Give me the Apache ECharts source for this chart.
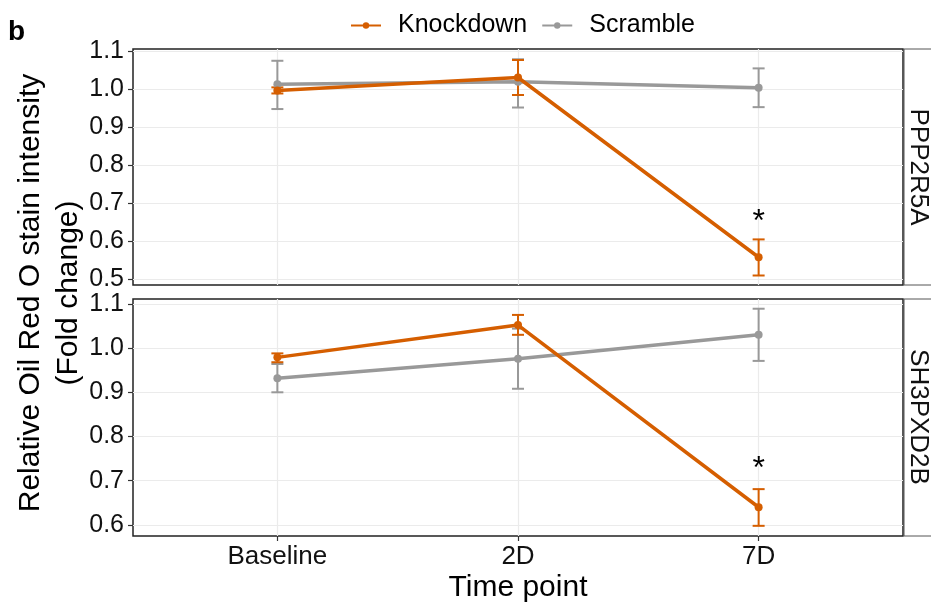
<!DOCTYPE html>
<html>
<head>
<meta charset="utf-8">
<script src="https://cdn.jsdelivr.net/npm/echarts@6/dist/echarts.min.js"></script>
<style>
  html, body { margin: 0; padding: 0; background: #fff; }
  #chart { width: 931px; height: 614px; }
</style>
</head>
<body>
<div id="chart"></div>
<script>
var categories = ['Baseline', '2D', '7D']
var panels = ['PPP2R5A', 'SH3PXD2B']
var yTicksTop = [0.5, 0.6, 0.7, 0.8, 0.9, 1.0, 1.1]
var yTicksBottom = [0.6, 0.7, 0.8, 0.9, 1.0, 1.1]

// PPP2R5A
var pppKnock = [0.996, 1.030, 0.557]
var pppKnockLow = [0.988, 0.984, 0.509]
var pppKnockHigh = [1.004, 1.076, 0.604]
var pppScram = [1.012, 1.019, 1.003]
var pppScramLow = [0.947, 0.951, 0.952]
var pppScramHigh = [1.074, 1.078, 1.054]

// SH3PXD2B
var shKnock = [0.979, 1.052, 0.640]
var shKnockLow = [0.968, 1.030, 0.598]
var shKnockHigh = [0.988, 1.075, 0.681]
var shScram = [0.932, 0.976, 1.030]
var shScramLow = [0.900, 0.908, 0.971]
var shScramHigh = [0.964, 1.044, 1.089]

// significance marks (category index, y)
var pppStar = [[3, 0.668]]
var shStar = [[3, 0.743]]

var ORANGE = '#d55e00'
var GREY = '#999999'
var FONT = 'Liberation Sans, Arial, sans-serif'

function pts(vals) {
  return vals.map(function (v, i) { return [i + 1, v] })
}
function bars(lo, hi) {
  return lo.map(function (v, i) { return [i + 1, v, hi[i]] })
}

function renderErr(params, api) {
  var x = api.value(0)
  var a = api.coord([x, api.value(1)])
  var b = api.coord([x, api.value(2)])
  var w = 6
  var st = { stroke: api.visual('color'), lineWidth: 2 }
  return {
    type: 'group',
    children: [
      { type: 'line', shape: { x1: a[0], y1: a[1], x2: b[0], y2: b[1] }, style: st },
      { type: 'line', shape: { x1: a[0] - w, y1: a[1], x2: a[0] + w, y2: a[1] }, style: st },
      { type: 'line', shape: { x1: b[0] - w, y1: b[1], x2: b[0] + w, y2: b[1] }, style: st }
    ]
  }
}

function renderStar(params, api) {
  var p = api.coord([api.value(0), api.value(1)])
  return {
    type: 'text',
    x: p[0], y: p[1] + 7,
    style: { text: '*', fontSize: 32, fontFamily: FONT, fill: '#000', align: 'center', verticalAlign: 'middle' }
  }
}

function xAxisOf(idx, showLabels) {
  return {
    type: 'value', gridIndex: idx, min: 0.4, max: 3.6,
    axisLine: { show: false },
    axisTick: { show: showLabels, customValues: [1, 2, 3], length: 5, lineStyle: { color: '#333', width: 1.2 } },
    axisLabel: {
      show: showLabels, customValues: [1, 2, 3], margin: 8,
      fontSize: 26, color: '#111', fontFamily: FONT,
      formatter: function (v) { return categories[Math.round(v) - 1] }
    },
    splitLine: { show: true, lineStyle: { color: '#ebebeb', width: 1.2 } },
    name: showLabels ? 'Time point' : '',
    nameLocation: 'middle', nameGap: 37,
    nameTextStyle: { fontSize: 30, color: '#000', fontFamily: FONT }
  }
}

function yAxisOf(idx, lo, hi, ticks) {
  return {
    type: 'value', gridIndex: idx, min: lo, max: hi,
    axisLine: { show: false },
    axisTick: { show: true, customValues: ticks, length: 5, lineStyle: { color: '#333', width: 1.2 } },
    axisLabel: {
      customValues: ticks, margin: 9, fontSize: 25, color: '#111', fontFamily: FONT,
      formatter: function (v) { return v.toFixed(1) }
    },
    splitLine: { show: true, lineStyle: { color: '#ebebeb', width: 1.2 } }
  }
}

function lineSeries(name, idx, vals, color, z) {
  return {
    name: name, type: 'line', xAxisIndex: idx, yAxisIndex: idx,
    data: pts(vals), symbol: 'circle', symbolSize: 8, z: z,
    lineStyle: { color: color, width: 3.5 }, itemStyle: { color: color },
    animation: false
  }
}

function errSeries(idx, lo, hi, color, z) {
  return {
    type: 'custom', xAxisIndex: idx, yAxisIndex: idx, z: z,
    data: bars(lo, hi), encode: { x: 0, y: [1, 2] },
    itemStyle: { color: color }, renderItem: renderErr, animation: false
  }
}

function starSeries(idx, data) {
  return {
    type: 'custom', xAxisIndex: idx, yAxisIndex: idx, z: 10,
    data: data, encode: { x: 0, y: 1 }, renderItem: renderStar, animation: false
  }
}

var chart = echarts.init(document.getElementById('chart'))

var option = {
  backgroundColor: '#fff',
  animation: false,
  textStyle: { fontFamily: FONT },
  legend: {
    top: 8, left: 345,
    data: ['Knockdown', 'Scramble'],
    itemWidth: 30, itemHeight: 8, itemGap: 14,
    textStyle: { fontSize: 25, color: '#000', fontFamily: FONT, padding: [0, 0, 0, 12] }
  },
  grid: [
    { left: 133, top: 49, width: 770, height: 236, show: true, borderColor: '#222', borderWidth: 1.5, backgroundColor: 'transparent' },
    { left: 133, top: 299, width: 770, height: 237, show: true, borderColor: '#222', borderWidth: 1.5, backgroundColor: 'transparent' }
  ],
  xAxis: [xAxisOf(0, false), xAxisOf(1, true)],
  yAxis: [
    yAxisOf(0, 0.484, 1.105, yTicksTop),
    yAxisOf(1, 0.575, 1.111, yTicksBottom)
  ],
  series: [
    errSeries(0, pppScramLow, pppScramHigh, GREY, 2),
    errSeries(0, pppKnockLow, pppKnockHigh, ORANGE, 3),
    lineSeries('Scramble', 0, pppScram, GREY, 4),
    lineSeries('Knockdown', 0, pppKnock, ORANGE, 5),
    starSeries(0, pppStar),
    errSeries(1, shScramLow, shScramHigh, GREY, 2),
    errSeries(1, shKnockLow, shKnockHigh, ORANGE, 3),
    lineSeries('Scramble', 1, shScram, GREY, 4),
    lineSeries('Knockdown', 1, shKnock, ORANGE, 5),
    starSeries(1, shStar)
  ],
  graphic: [
    { type: 'text', left: 8, top: 18, style: { text: 'b', fontSize: 28, fontWeight: 'bold', fill: '#000', fontFamily: FONT } },
    // facet strips
    { type: 'rect', shape: { x: 904, y: 49, width: 40, height: 236 }, style: { fill: '#fff', stroke: '#555', lineWidth: 1 } },
    { type: 'rect', shape: { x: 904, y: 299, width: 40, height: 237 }, style: { fill: '#fff', stroke: '#555', lineWidth: 1 } },
    { type: 'text', x: 918, y: 167, rotation: -Math.PI / 2, style: { text: panels[0], fontSize: 26, fill: '#111', fontFamily: FONT, align: 'center', verticalAlign: 'middle' } },
    { type: 'text', x: 918, y: 417, rotation: -Math.PI / 2, style: { text: panels[1], fontSize: 26, fill: '#111', fontFamily: FONT, align: 'center', verticalAlign: 'middle' } },
    // shared y-axis title
    { type: 'text', x: 31, y: 293, rotation: Math.PI / 2, style: { text: 'Relative Oil Red O stain intensity', fontSize: 30, fill: '#000', fontFamily: FONT, align: 'center', verticalAlign: 'middle' } },
    { type: 'text', x: 69, y: 293, rotation: Math.PI / 2, style: { text: '(Fold change)', fontSize: 30, fill: '#000', fontFamily: FONT, align: 'center', verticalAlign: 'middle' } }
  ]
}

chart.setOption(option)
</script>
</body>
</html>
